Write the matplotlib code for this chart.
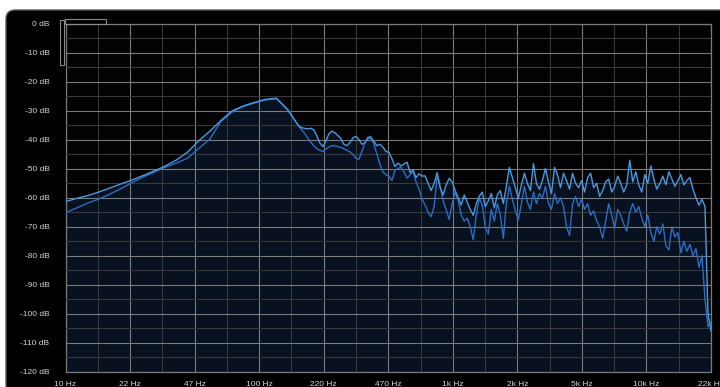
import numpy as np
import matplotlib.pyplot as plt
from matplotlib.patches import FancyBboxPatch, Rectangle
from matplotlib.ticker import FixedLocator, NullFormatter
from matplotlib.transforms import IdentityTransform

# frequency grid: coarse below 160 Hz, fine above (where the spectrum gets noisy)
freq = np.concatenate([np.geomspace(10, 160, 22)[:-1], np.geomspace(160, 21544, 138)])

# spectrum 1 (light blue), dB
spec_light = [
    -61.3, -60.2, -59.2, -58.0, -56.6, -55.2, -53.8, -52.3, -50.7, -49.0, -46.9,
    -44.2, -40.3, -37.0, -33.3, -30.0, -28.3, -27.1, -26.0, -25.6, -29.5,
    -35.2, -35.8, -36.0, -36.2, -36.0, -36.5, -38.5, -41.0, -42.3, -40.5,
    -38.0, -37.0, -37.5, -38.5, -39.5, -41.5, -42.0, -41.0, -39.3, -38.8,
    -39.8, -41.5, -41.0, -39.5, -39.3, -40.5, -42.0, -41.5, -42.5, -44.0,
    -44.3, -46.5, -49.2, -48.0,
    -49.0, -48.3, -47.7, -51.3, -50.3, -53.0, -51.7, -52.5, -52.4, -55.0,
    -57.5, -55.0, -51.3, -56.5, -59.0, -55.5, -53.3, -54.5, -57.5, -60.0,
    -62.5, -59.0, -61.5, -64.0, -66.0, -62.0, -59.5, -58.0, -63.0, -61.0,
    -58.5, -63.5, -59.0, -57.5, -62.0, -56.0, -49.5, -53.0, -56.5, -60.0,
    -55.5, -51.5, -55.0, -57.5, -48.2, -55.0, -57.0, -54.0, -49.8, -54.5,
    -58.5, -49.5, -52.0, -56.5, -51.5, -54.0, -57.0, -51.5, -55.0, -56.5,
    -54.0, -58.0, -53.0, -51.5, -56.5, -55.0, -59.5, -57.5, -54.5, -53.5,
    -58.0, -56.0, -52.5, -55.0, -58.0, -55.5, -47.0, -54.5, -51.0, -55.5,
    -58.0, -52.0, -55.0, -49.0, -53.5, -57.0, -55.0, -52.5, -55.5, -51.0,
    -53.5, -56.0, -54.0, -52.0, -55.5, -54.0, -53.0, -57.0, -60.0, -62.5,
    -60.5, -63.0, -100.0, -106.0,
]

# spectrum 2 (dark blue), dB
spec_dark = [
    -65.1, -63.5, -61.8, -60.4, -58.7, -56.8, -54.7, -52.8, -51.1, -49.4, -48.0,
    -46.3, -43.0, -39.7, -33.6, -30.4, -28.4, -27.3, -26.2, -25.8, -29.6,
    -35.2, -36.5, -37.8, -39.3, -40.8, -42.0, -43.0, -43.6, -44.0, -43.2,
    -42.5, -42.0, -42.0, -42.3, -42.6, -43.0, -43.6, -44.1, -45.0, -46.3,
    -46.7, -44.0, -41.0, -39.0, -38.8, -41.5, -45.0, -48.5, -51.0, -52.0,
    -52.6, -54.0, -50.5, -49.8,
    -49.5, -51.0, -53.2, -52.0, -51.0, -54.5, -57.0, -60.5, -62.5, -65.0,
    -66.5, -63.0, -52.5, -56.0, -61.0, -64.0, -67.5, -62.0, -58.0, -61.0,
    -66.0, -68.0, -67.0, -70.0, -74.5, -66.0, -60.0, -62.5, -70.0, -72.5,
    -64.0, -68.0, -62.0, -66.0, -74.0, -62.0, -56.0, -60.5, -64.5, -67.5,
    -62.0, -56.0, -61.5, -64.0, -58.0, -62.0, -58.5, -60.0, -56.0, -62.0,
    -64.0, -58.5, -62.0, -60.0, -63.0, -70.0, -73.0, -62.0, -59.5, -63.0,
    -60.5, -64.0, -62.0, -66.0, -64.5, -68.0, -70.0, -74.0, -68.0, -62.0,
    -66.0, -70.5, -64.0, -66.0, -69.0, -71.5, -65.0, -62.0, -65.0, -63.0,
    -67.0, -70.0, -66.0, -72.0, -75.0, -70.0, -72.5, -69.0, -76.5, -78.0,
    -70.0, -73.5, -72.0, -79.0, -75.0, -78.5, -76.0, -80.0, -77.5, -84.0,
    -80.0, -95.0, -104.5, -103.0,
]

x_ticks = [10, 21.54, 46.42, 100, 215.4, 464.2, 1000, 2154, 4642, 10000, 21544]
x_labels = ['10 Hz', '22 Hz', '47 Hz', '100 Hz', '220 Hz', '470 Hz',
            '1k Hz', '2k Hz', '5k Hz', '10k Hz', '22k Hz']
x_minor = [14.68, 31.62, 68.13, 146.8, 316.2, 681.3, 1468, 3162, 6813, 14678]
y_ticks = list(range(-120, 1, 10))
y_labels = ['%d dB' % v for v in y_ticks]

W, H = 720, 387
fig = plt.figure(figsize=(W / 100, H / 100), dpi=100, facecolor='white')

# dark rounded panel behind the analyzer
panel = FancyBboxPatch((6, -30), 760, H - 10 + 30,
                       boxstyle='round,pad=0,rounding_size=9',
                       transform=IdentityTransform(),
                       facecolor='#000000', edgecolor='#5a5a5a', lw=1.0,
                       zorder=-10)
fig.add_artist(panel)

ax = fig.add_axes([65.5 / W, 15.3 / H, 645.5 / W, 347.7 / H])
ax.set_facecolor('#020202')
ax.set_xscale('log')
ax.set_xlim(10, 21544)
ax.set_ylim(-120, 0)

ax.xaxis.set_major_locator(FixedLocator(x_ticks))
ax.xaxis.set_minor_locator(FixedLocator(x_minor))
ax.xaxis.set_minor_formatter(NullFormatter())
ax.set_xticklabels(x_labels)
ax.set_yticks(y_ticks)
ax.set_yticklabels(y_labels)
ax.yaxis.set_minor_locator(FixedLocator(list(range(-115, 0, 10))))

ax.tick_params(which='both', length=0, colors='#d4d4d4')
ax.tick_params(axis='x', pad=6.6, labelsize=6)
ax.tick_params(axis='y', pad=11.5, labelsize=6)
for lab in ax.get_xticklabels() + ax.get_yticklabels():
    lab.set_fontfamily('Liberation Sans')

ax.set_axisbelow(False)
ax.grid(which='major', color='#7a7a7a', lw=0.8)
ax.grid(which='minor', color='#393939', lw=0.8)
for sp in ax.spines.values():
    sp.set_color('#7a7a7a')
    sp.set_linewidth(0.9)

# navy area under the louder of the two spectra
upper = np.maximum(spec_light, spec_dark)
ax.fill_between(freq, upper, -130, color='#07111f', lw=0, zorder=1)
ax.plot(freq, spec_dark, color='#2d6cc0', lw=1.0, zorder=3)
ax.plot(freq, spec_light, color='#4a98e0', lw=1.0, zorder=3)

# small range handles in the top-left corner
fig.add_artist(Rectangle((65, H - 23.5), 41, 4.5, transform=IdentityTransform(),
                         facecolor='none', edgecolor='#8a8a8a', lw=0.8, zorder=5))
fig.add_artist(Rectangle((60, H - 65), 4.3, 45, transform=IdentityTransform(),
                         facecolor='none', edgecolor='#8a8a8a', lw=0.8, zorder=5))

fig.savefig('out.png', dpi=100, facecolor='white')
